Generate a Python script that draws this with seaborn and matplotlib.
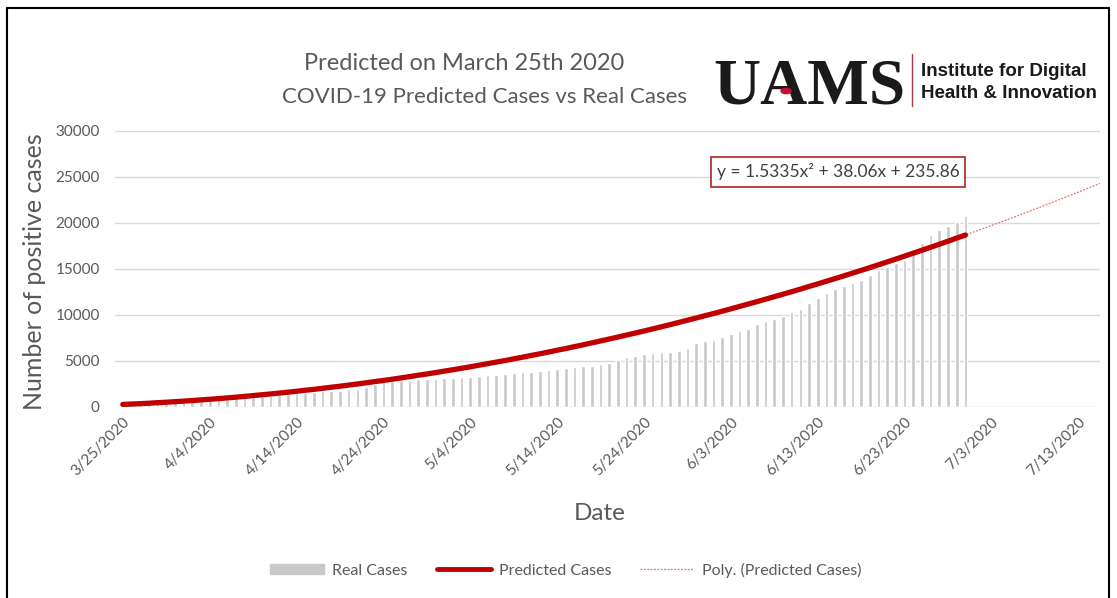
import datetime as dt

import numpy as np
import pandas as pd
import seaborn as sns
import matplotlib.pyplot as plt
from matplotlib.lines import Line2D
from matplotlib.patches import Patch, Circle

W, H = 1117, 598

START = dt.date(2020, 3, 25)

# cumulative positive cases, one value per day starting 3/25/2020
real_cases = [
    280, 335, 381, 409, 426, 473, 523, 584, 643, 704,
    743, 837, 875, 946, 997, 1119, 1171, 1226, 1280, 1410,
    1480, 1569, 1620, 1695, 1744, 1781, 1923, 1990, 2227, 2465,
    2741, 2829, 2941,
    2930, 2990, 3030, 3060, 3110, 3150, 3270, 3300, 3330, 3460,
    3530, 3590, 3660, 3760, 3830, 3870, 4010, 4090, 4200, 4360,
    4450, 4510, 4640, 4760, 5110, 5460, 5580, 5730, 5830, 5930,
    6010, 6120, 6380, 6920,
    7180, 7310, 7620, 7930, 8260, 8480, 8990, 9330, 9580, 9900,
    10300, 10610, 11330, 11870, 12350, 12830,
    13100, 13480, 13820, 14400, 14890, 15180, 15620, 16010, 17170, 17860,
    18670, 19190, 19700, 20100, 20720,
]

# predicted cases (red line), same days
predicted_cases = [
    280, 320, 360, 410, 470, 520, 580, 640, 700, 770,
    840, 910, 990, 1070, 1150, 1240, 1330, 1420, 1510, 1610,
    1710, 1820, 1920, 2030, 2150, 2260, 2380, 2500, 2630, 2760,
    2890, 3020, 3160, 3300, 3450, 3590, 3740, 3900, 4050, 4210,
    4370, 4540, 4710, 4880, 5050, 5230, 5410, 5600, 5780, 5970,
    6170, 6360, 6560, 6760, 6970, 7180, 7390, 7600, 7820, 8040,
    8260, 8490, 8720, 8950, 9190, 9430, 9670, 9920, 10160, 10410,
    10670, 10930, 11190, 11450, 11720, 11990, 12260, 12530, 12810, 13100,
    13380, 13670, 13960, 14250, 14550, 14850, 15150, 15460, 15770, 16080,
    16400, 16720, 17040, 17360, 17690, 18020, 18360, 18690,
]

tick_days = [0, 10, 20, 30, 40, 50, 60, 70, 80, 90, 100, 110]
y_ticks = [0, 5000, 10000, 15000, 20000, 25000, 30000]

GREY_TXT = "#595959"
RED = "#c00000"
BAR = "#c9c9c9"


def fx(px):
    return px / W


def fy(py):
    return 1 - py / H


def date_label(day):
    d = START + dt.timedelta(days=day)
    return "{}/{}/{}".format(d.month, d.day, d.year)


df = pd.DataFrame({
    "day": np.arange(len(real_cases)),
    "real": real_cases,
    "predicted": predicted_cases,
})

# excel style 2nd order polynomial trendline on the predicted series
coef = np.polyfit(df["day"] + 1, df["predicted"], 2)
trend = pd.DataFrame({"day": np.linspace(0, 112.5, 200)})
trend["value"] = np.polyval(coef, trend["day"] + 1)

sns.set_style("white")
plt.rcParams["font.family"] = ["Lato", "DejaVu Sans"]

fig = plt.figure(figsize=(W / 100, H / 100), dpi=100)
ax = fig.add_axes([fx(115), fy(407), fx(1100) - fx(115), fy(131) - fy(407)])

sns.barplot(data=df, x="day", y="real", native_scale=True, width=0.42,
            color=BAR, saturation=1, ax=ax, zorder=2)
sns.lineplot(data=trend, x="day", y="value", color="#e57373", lw=0.9,
             linestyle=(0, (1.5, 1.2)), ax=ax, zorder=3)
sns.lineplot(data=df, x="day", y="predicted", color=RED, lw=3.8, ax=ax,
             zorder=4)

ax.set_xlim(-0.9, 112.5)
ax.set_ylim(0, 30000)
ax.set_yticks(y_ticks)
ax.set_yticklabels([str(v) for v in y_ticks])
ax.set_xticks(tick_days)
ax.set_xticklabels([date_label(d) for d in tick_days], rotation=45,
                   ha="right", rotation_mode="anchor")
ax.tick_params(axis="both", length=0, labelsize=11, labelcolor=GREY_TXT)
ax.tick_params(axis="y", pad=11)
ax.tick_params(axis="x", pad=6)
ax.yaxis.grid(True, color="#d9d9d9", lw=1)
ax.set_axisbelow(True)
for s in ax.spines.values():
    s.set_visible(False)
ax.set_xlabel("")
ax.set_ylabel("")

fig.text(fx(35), fy(272), "Number of positive cases", rotation=90,
         ha="center", va="center", fontsize=18, color=GREY_TXT)
fig.text(fx(600), fy(514), "Date", ha="center", va="center", fontsize=17.5,
         color=GREY_TXT)

fig.text(fx(464), fy(63), "Predicted on March 25th 2020", ha="center",
         va="center", fontsize=17, color=GREY_TXT)
fig.text(fx(484), fy(97), "COVID-19 Predicted Cases vs Real Cases",
         ha="center", va="center", fontsize=16, color=GREY_TXT)

# logo
fig.text(fx(713), fy(104), "UAMS", ha="left", va="baseline",
         family="Liberation Serif", weight="bold", fontsize=47, color="#1a1a1a")
fig.add_artist(Circle((fx(786), fy(91)), 5 / W, transform=fig.transFigure,
                      color="#c8102e", zorder=5))
fig.add_artist(Line2D([fx(912), fx(912)], [fy(54), fy(106)],
                      transform=fig.transFigure, color="#b03a48", lw=1))
fig.text(fx(921), fy(72), "Institute for Digital", ha="left", va="center",
         family="Liberation Sans", weight="bold", fontsize=13.5,
         color="#1a1a1a")
fig.text(fx(921), fy(93), "Health & Innovation", ha="left", va="center",
         family="Liberation Sans", weight="bold", fontsize=13.5,
         color="#1a1a1a")

# trendline equation
fig.text(fx(838), fy(172), "y = 1.5335x\u00b2 + 38.06x + 235.86",
         ha="center", va="center", fontsize=12.5, color="#404040",
         bbox=dict(boxstyle="square,pad=0.35", fc="white", ec="#b22222",
                   lw=1.2))

handles = [
    Patch(color=BAR),
    Line2D([], [], color=RED, lw=3.5),
    Line2D([], [], color="#e57373", lw=0.9, linestyle=(0, (1.5, 1.2))),
]
labels = ["Real Cases", "Predicted Cases", "Poly. (Predicted Cases)"]
fig.legend(handles, labels, loc="center", bbox_to_anchor=(fx(566), fy(570)),
           ncol=3, frameon=False, fontsize=11.5, handlelength=3.4,
           handleheight=0.6, handletextpad=0.5, columnspacing=1.8,
           labelcolor=GREY_TXT)

# outer frame of the screenshot
frame = dict(transform=fig.transFigure, color="black", lw=1.5)
fig.add_artist(Line2D([fx(7), fx(7)], [fy(8), 0], **frame))
fig.add_artist(Line2D([fx(7), fx(1109)], [fy(8), fy(8)], **frame))
fig.add_artist(Line2D([fx(1109), fx(1109)], [fy(8), 0], **frame))

fig.savefig("out.png", dpi=100)
